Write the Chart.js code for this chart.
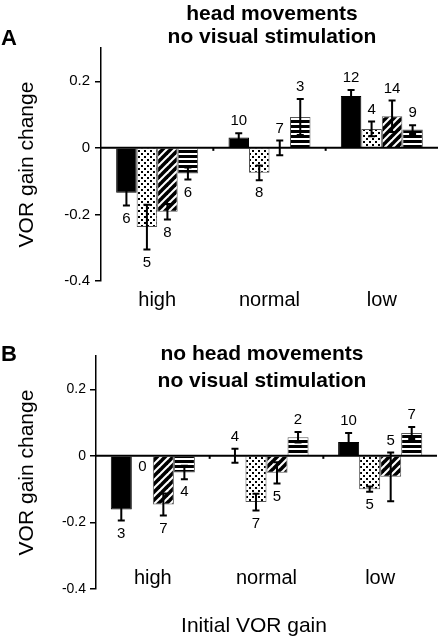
<!DOCTYPE html>
<html lang="en">
<head>
<meta charset="UTF-8">
<title>VOR gain change</title>
<script src="https://cdn.jsdelivr.net/npm/chart.js"></script>
<style>
    body {
        margin: 0;
        background: #fff;
        width: 441px;
        height: 638px;
        position: relative;
        overflow: hidden;
        font-family: "Liberation Sans", Arial, sans-serif;
        color: #000;
    }
    canvas { position: absolute; left: 0; }
    #chartA { top: 0; }
    #chartB { top: 310px; }
    .txt { position: absolute; white-space: nowrap; }
    .letter { font-weight: bold; font-size: 22px; line-height: 22px; }
    .title { font-weight: bold; font-size: 21px; text-align: center; transform: translateX(-50%); }
    .xlabel { font-size: 21px; line-height: 21px; transform: translateX(-50%); }
</style>
</head>
<body>
<canvas id="chartA" width="441" height="310"></canvas>
<canvas id="chartB" width="441" height="328"></canvas>

<div class="txt letter" style="left:1px; top:27px;">A</div>
<div class="txt title" style="left:272px; top:1px; line-height:23px;">head movements<br>no visual stimulation</div>
<div class="txt letter" style="left:1px; top:343px;">B</div>
<div class="txt title" style="left:262px; top:339px; line-height:27px;">no head movements<br>no visual stimulation</div>
<div class="txt xlabel" style="left:254px; top:614px;">Initial VOR gain</div>

<script>
    const FONT = '"Liberation Sans", Arial, sans-serif';

    const categories = ['high', 'normal', 'low'];
    const yTicks = [-0.4, -0.2, 0, 0.2];

    // panel A: head movements, no visual stimulation
    const aBlack = [-0.135, 0.031, 0.156];
    const aBlackErr = [0.038, 0.013, 0.018];
    const aBlackN = [6, 10, 12];
    const aDots = [-0.238, -0.075, 0.057];
    const aDotsErr = [0.067, 0.022, 0.022];
    const aDotsN = [5, 8, 4];
    const aHatch = [-0.192, 0, 0.095];
    const aHatchErr = [0.023, 0.022, 0.047];
    const aHatchN = [8, 7, 14];
    const aStripe = [-0.077, 0.093, 0.055];
    const aStripeErr = [0.018, 0.054, 0.013];
    const aStripeN = [6, 3, 9];

    // panel B: no head movements, no visual stimulation
    const bBlack = [-0.161, 0, 0.042];
    const bBlackErr = [0.033, 0.021, 0.027];
    const bBlackN = [3, 4, 10];
    const bDots = [null, -0.139, -0.100];
    const bDotsErr = [null, 0.025, 0.008];
    const bDotsN = [0, 7, 5];
    const bHatch = [-0.146, -0.051, -0.063];
    const bHatchErr = [0.033, 0.032, 0.073];
    const bHatchN = [7, 5, 5];
    const bStripe = [-0.050, 0.056, 0.069];
    const bStripeErr = [0.020, 0.016, 0.018];
    const bStripeN = [4, 2, 7];

    function makePattern(kind) {
        let c = document.createElement('canvas');
        let ctx = c.getContext('2d');
        if (kind === 'dots') {
            c.width = 6; c.height = 6;
            ctx.fillStyle = '#fff';
            ctx.fillRect(0, 0, 6, 6);
            ctx.fillStyle = '#000';
            ctx.fillRect(0, 0, 2, 2);
            ctx.fillRect(3, 3, 2, 2);
        } else if (kind === 'hatch') {
            c.width = 8; c.height = 8;
            ctx.fillStyle = '#fff';
            ctx.fillRect(0, 0, 8, 8);
            ctx.strokeStyle = '#000';
            ctx.lineWidth = 3.6;
            // lines x + y = 0, 8, 16
            [0, 8, 16].forEach(s => {
                ctx.beginPath();
                ctx.moveTo(s + 4, -4);
                ctx.lineTo(s - 12, 12);
                ctx.stroke();
            });
        } else {
            c.width = 5; c.height = 5;
            ctx.fillStyle = '#fff';
            ctx.fillRect(0, 0, 5, 5);
            ctx.fillStyle = '#000';
            ctx.fillRect(0, 0, 5, 3);
        }
        return c.getContext('2d').createPattern(c, 'repeat');
    }

    // zero line, error bars, n labels, category names
    const errorBars = {
        id: 'errorBars',
        afterDatasetsDraw(chart) {
            let ctx = chart.ctx;
            let x = chart.scales.x, y = chart.scales.y, area = chart.chartArea;
            let opts = chart.options.plugins.errorBars;
            let y0 = y.getPixelForValue(0);
            ctx.save();
            ctx.strokeStyle = '#000';
            ctx.lineWidth = 2;
            ctx.beginPath();
            ctx.moveTo(area.left, y0);
            ctx.lineTo(area.right, y0);
            ctx.stroke();
            for (let i = 0; i < categories.length - 1; i++) {
                let xd = (x.getPixelForValue(i) + x.getPixelForValue(i + 1)) / 2;
                ctx.beginPath();
                ctx.moveTo(xd, y0);
                ctx.lineTo(xd, y0 + 3);
                ctx.stroke();
            }

            ctx.fillStyle = '#000';
            ctx.textAlign = 'center';
            ctx.textBaseline = 'middle';
            ctx.font = opts.nSize + 'px ' + FONT;
            let nBars = chart.data.datasets.length;
            chart.data.datasets.forEach((ds, i) => {
                let meta = chart.getDatasetMeta(i);
                meta.data.forEach((bar, j) => {
                    let v = ds.data[j], e = ds.err[j];
                    let bx = bar.x;
                    if (!isFinite(bx)) {
                        let w = (x.getPixelForValue(1) - x.getPixelForValue(0)) * opts.catPct / nBars;
                        bx = x.getPixelForValue(j) + (i - (nBars - 1) / 2) * w;
                    }
                    if (v === null) {
                        ctx.fillText(String(ds.n[j]), bx, y0 + 11);
                        return;
                    }
                    let hi = y.getPixelForValue(v + e), lo = y.getPixelForValue(v - e);
                    ctx.lineWidth = 2;
                    ctx.beginPath();
                    ctx.moveTo(bx, hi); ctx.lineTo(bx, lo);
                    ctx.moveTo(bx - 3.5, hi); ctx.lineTo(bx + 3.5, hi);
                    ctx.moveTo(bx - 3.5, lo); ctx.lineTo(bx + 3.5, lo);
                    ctx.stroke();
                    let ly = (v + e > 0) ? hi - 12 : lo + 13;
                    ctx.fillText(String(ds.n[j]), bx, ly);
                });
            });

            ctx.font = '20px ' + FONT;
            categories.forEach((c, i) => {
                ctx.fillText(c, x.getPixelForValue(i), area.bottom + opts.catOffset);
            });
            ctx.restore();
        }
    };

    const dotPattern = makePattern('dots');
    const hatchPattern = makePattern('hatch');
    const stripePattern = makePattern('stripe');

    function makePanel(id, series, p) {
        let fills = ['#000', dotPattern, hatchPattern, stripePattern];
        let borders = ['#000', '#555', '#555', '#555'];
        return new Chart(document.getElementById(id), {
            type: 'bar',
            data: {
                labels: categories,
                datasets: series.map((s, i) => ({
                    data: s[0],
                    err: s[1],
                    n: s[2],
                    backgroundColor: fills[i],
                    borderColor: borders[i],
                    borderWidth: 1,
                    categoryPercentage: p.catPct,
                    barPercentage: 1.0
                }))
            },
            options: {
                responsive: false,
                animation: false,
                layout: { padding: p.padding },
                plugins: {
                    legend: { display: false },
                    tooltip: { enabled: false },
                    errorBars: { nSize: 15, catOffset: p.catOffset, catPct: p.catPct }
                },
                scales: {
                    x: { display: false },
                    y: {
                        min: -0.4,
                        max: 0.3,
                        afterBuildTicks: s => { s.ticks = yTicks.map(v => ({ value: v })); },
                        afterFit: s => { s.width = p.axisWidth; },
                        ticks: {
                            color: '#000',
                            font: { size: p.tickSize, family: FONT },
                            padding: p.tickPad,
                            callback: v => v === 0 ? '0' : v.toFixed(1)
                        },
                        grid: { drawOnChartArea: false, drawTicks: true, tickLength: 6, color: '#000', lineWidth: 1.5 },
                        border: { display: true, color: '#000', width: 1.5 },
                        title: {
                            display: true,
                            text: 'VOR gain change',
                            color: '#000',
                            font: { size: 21, family: FONT },
                            padding: { top: 15, bottom: 0 }
                        }
                    }
                }
            },
            plugins: [errorBars]
        });
    }

    makePanel('chartA', [
        [aBlack, aBlackErr, aBlackN],
        [aDots, aDotsErr, aDotsN],
        [aHatch, aHatchErr, aHatchN],
        [aStripe, aStripeErr, aStripeN]
    ], { padding: { left: 0, top: 48, right: 3, bottom: 29 }, axisWidth: 101, tickSize: 15, tickPad: 5, catPct: 0.73, catOffset: 19 });

    makePanel('chartB', [
        [bBlack, bBlackErr, bBlackN],
        [bDots, bDotsErr, bDotsN],
        [bHatch, bHatchErr, bHatchN],
        [bStripe, bStripeErr, bStripeN]
    ], { padding: { left: 0, top: 46, right: 4, bottom: 49 }, axisWidth: 96, tickSize: 14, tickPad: 4, catPct: 0.74, catOffset: -11 });
</script>
</body>
</html>
